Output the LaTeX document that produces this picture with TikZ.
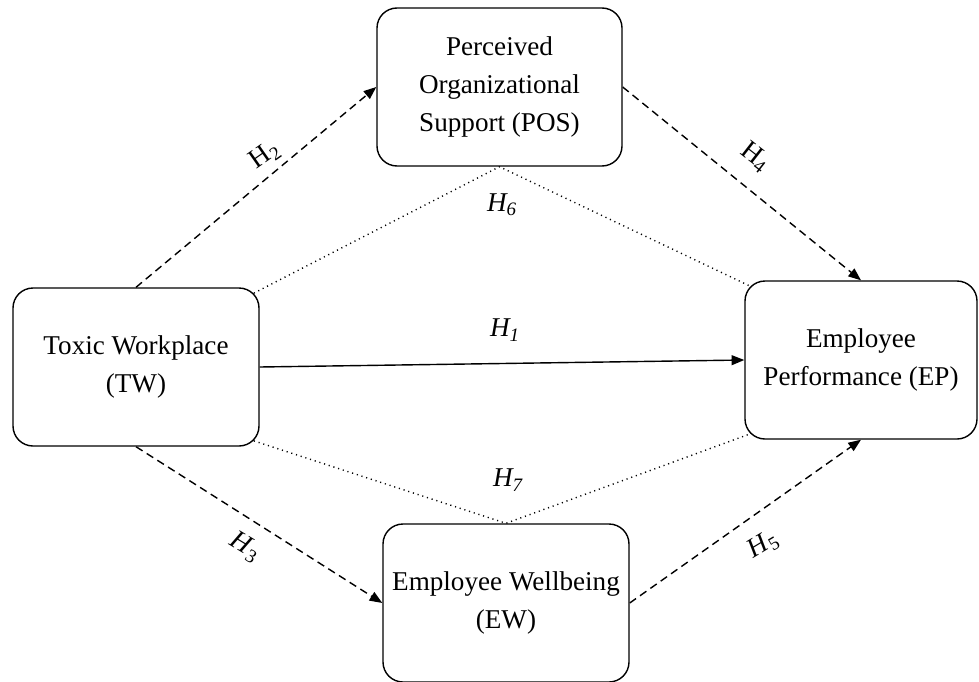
\documentclass[tikz,border=0pt]{standalone}
\usepackage{fontspec}
\setmainfont{Liberation Serif}
\usetikzlibrary{arrows.meta,calc}
\pgfdeclarelayer{bg}
\pgfsetlayers{bg,main}
\tikzset{
    construct/.style={rectangle, rounded corners=0.5cm, draw, line width=1pt, fill=white, align=center,
        minimum width=6.15cm, minimum height=3.95cm, inner sep=0mm, font=\fontsize{19.3}{27}\selectfont},
    hyp/.style={inner sep=0mm, font=\fontsize{19.3}{23}\selectfont},
    direct/.style={line width=1pt, -{Triangle[length=9pt,width=7pt]}},
    mediated/.style={direct, dash pattern=on 5.5pt off 3.5pt},
    indirect/.style={line width=1pt, dash pattern=on 0.8pt off 2.7pt}
}

\begin{document}
\begin{tikzpicture}
        \useasboundingbox (0cm, 0cm) rectangle (24.475cm, -17.025cm);
        \node[construct] (tw) at (3.400000cm, -9.175000cm) {Toxic Workplace\\(TW)};
        \node[construct, minimum width=6.125cm] (pos) at (12.487500cm, -2.175000cm) {Perceived\\Organizational\\Support (POS)};
        \node[construct, minimum width=5.8cm] (ep) at (21.525000cm, -9.000000cm) {Employee\\Performance (EP)};
        \node[construct] (ew) at (12.650000cm, -15.075000cm) {Employee Wellbeing\\(EW)};
        % hypothesis labels
        \node[hyp] (h1) at (12.625000cm, -8.250000cm) {\textit{H\textsubscript{1}}};
        \node[hyp, rotate=35] (h2) at (6.625000cm, -3.875000cm) {H\textsubscript{2}};
        \node[hyp, rotate=-31] (h3) at (6.125000cm, -13.675000cm) {\textit{H}\textsubscript{3}};
        \node[hyp, rotate=-38] (h4) at (18.875000cm, -3.925000cm) {H\textsubscript{4}};
        \node[hyp, rotate=31] (h5) at (19.075000cm, -13.625000cm) {\textit{H}\textsubscript{5}};
        \node[hyp] (h6) at (12.550000cm, -5.125000cm) {\textit{H\textsubscript{6}}};
        \node[hyp] (h7) at (12.700000cm, -12.000000cm) {\textit{H\textsubscript{7}}};
        \begin{pgfonlayer}{bg}
                \draw (tw.east) edge [direct] (ep.west);
                \draw (tw.north) edge [mediated] (pos.west);
                \draw (pos.east) edge [mediated] (ep.north);
                \draw (tw.south) edge [mediated] (ew.west);
                \draw (ew.east) edge [mediated] (ep.south);
                \draw [indirect] ($(tw.north east)+(-0.146,-0.146)$) -- (pos.south) -- ($(ep.north west)+(0.146,-0.146)$);
                \draw [indirect] ($(tw.south east)+(-0.146,0.146)$) -- (ew.north) -- ($(ep.south west)+(0.146,0.146)$);
        \end{pgfonlayer}
\end{tikzpicture}
\end{document}
